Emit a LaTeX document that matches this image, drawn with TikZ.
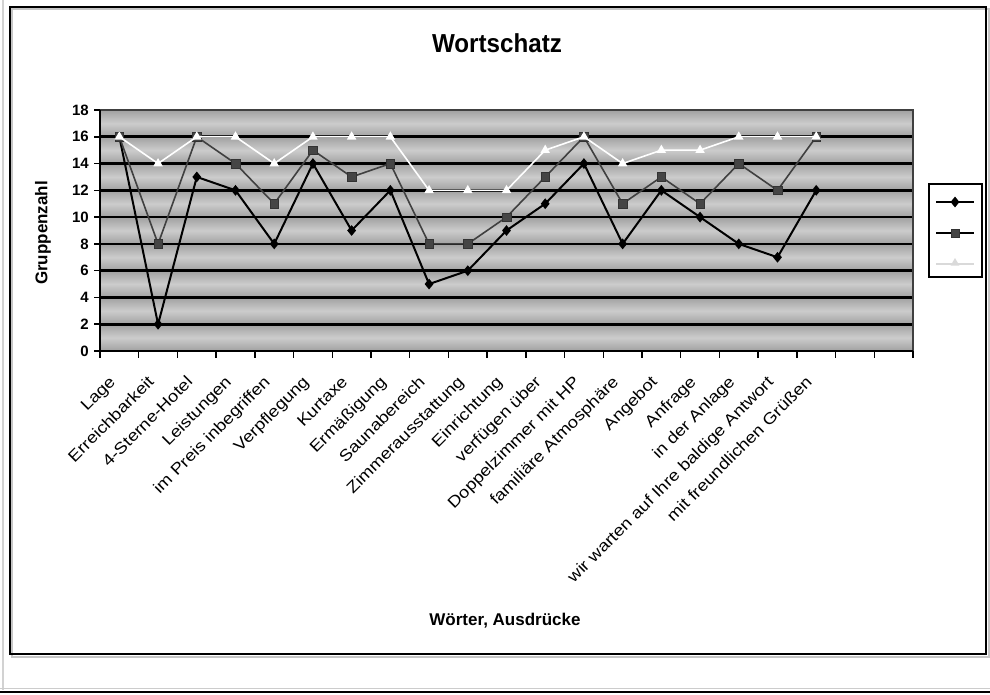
\documentclass[tikz,border=0pt]{standalone}
\usepackage{fontspec}
\setmainfont{Liberation Sans}
\usetikzlibrary{shapes.geometric}
\definecolor{bandedge}{gray}{0.63}
\definecolor{bandmid}{gray}{0.80}
\definecolor{sertwo}{gray}{0.25}
\definecolor{sertwofill}{gray}{0.27}
\begin{document}
\begin{tikzpicture}[x=1pt,y=-1pt,
  titlefont/.style={font=\bfseries\fontsize{26}{30}\selectfont},
  axtitle/.style={font=\bfseries\fontsize{17}{20}\selectfont},
  ticklab/.style={font=\bfseries\fontsize{15}{18}\selectfont, anchor=east, inner sep=0pt},
  catlab/.style={font=\fontsize{16}{19}\selectfont, anchor=mid east, rotate=45, inner sep=0pt},
  gridl/.style={line width=2.6pt, black},
  borderl/.style={line width=1.2pt, gray!50!black},
  axisl/.style={line width=2pt, black},
  tickl/.style={line width=1.5pt, black},
  sonel/.style={line width=2pt, black},
  stwol/.style={line width=1.6pt, sertwo},
  sthreel/.style={line width=1.6pt, white},
  dia/.style={diamond, fill=black, inner sep=0pt, minimum width=9pt, minimum height=11pt},
  sqr/.style={rectangle, fill=sertwofill, draw=black!80, line width=0.4pt, inner sep=0pt, minimum size=8.5pt},
  tri/.style={regular polygon, regular polygon sides=3, fill=white, inner sep=0pt, minimum size=11pt},
  tril/.style={regular polygon, regular polygon sides=3, fill=gray!30, inner sep=0pt, minimum size=10pt},
  frame/.style={line width=2.5pt, black},
  legbox/.style={line width=1.5pt, black, fill=white}]
\useasboundingbox (0,0) rectangle (990,694);
\fill[white] (0,0) rectangle (990,694);
% outer window lines
\draw[line width=2pt, gray!35] (3,0) -- (3,690);
\draw[line width=1.5pt, gray!40] (0,688.5) -- (990,688.5);
\draw[line width=2.5pt, black] (0,692) -- (990,692);
% main frame with shadow
\draw[line width=2pt, gray!45] (12,9) rectangle (989,657);
\draw[frame] (10,7) rectangle (986,654);
% title
\node[titlefont] (title) at (497,43) {\scalebox{0.93}[1]{Wortschatz}};
% plot area bands
\foreach \k in {0,...,8}{
  \shade[top color=bandedge, bottom color=bandedge, middle color=bandmid]
    (100,{351-13.389*2*\k}) rectangle (913,{351-13.389*2*(\k+1)});
}
% gridlines
\foreach \v in {2,4,...,16}{
  \coordinate (gl\v) at (100,{351-13.389*\v});
  \coordinate (gr\v) at (913,{351-13.389*\v});
  \draw[gridl] (gl\v) -- (gr\v);
}
\coordinate (ptl) at (100,110);
\coordinate (ptr) at (913,110);
\coordinate (pbr) at (913,351);
\coordinate (pbl) at (100,351);
\draw[borderl] (ptl) -- (ptr) -- (pbr);
\draw[axisl] (ptl) -- (pbl) -- (pbr);
% y ticks and labels
\foreach \v in {0,2,...,18}{
  \coordinate (yt\v) at (94,{351-13.389*\v});
  \coordinate (ya\v) at (100,{351-13.389*\v});
  \draw[tickl] (yt\v) -- (ya\v);
  \node[ticklab] (yl\v) at (89,{351-13.389*\v}) {\v};
}
% x ticks
\foreach \k in {0,...,21}{
  \coordinate (xa\k) at ({100+38.714*\k},351);
  \coordinate (xt\k) at ({100+38.714*\k},358);
  \draw[tickl] (xa\k) -- (xt\k);
}
% category labels
\foreach \t [count=\i] in {Lage,Erreichbarkeit,4-Sterne-Hotel,Leistungen,im Preis inbegriffen,Verpflegung,Kurtaxe,Ermäßigung,Saunabereich,Zimmerausstattung,Einrichtung,verfügen über,Doppelzimmer mit HP,familiäre Atmosphäre,Angebot,Anfrage,in der Anlage,wir warten auf Ihre baldige Antwort,mit freundlichen Grüßen}{
  \node[catlab] (cat\i) at ({100+38.714*(\i-0.5)-5},381) {\scalebox{1.15}[1]{\t}};
}
% axis titles
\node[axtitle, rotate=90] (ytitle) at (43,233) {Gruppenzahl};
\node[axtitle] (xtitle) at (505,621) {Wörter, Ausdrücke};
% series data
\foreach \v [count=\i] in {16,2,13,12,8,14,9,12,5,6,9,11,14,8,12,10,8,7,12}
  \coordinate (a\i) at ({100+38.714*(\i-0.5)},{351-13.389*\v});
\foreach \v [count=\i] in {16,8,16,14,11,15,13,14,8,8,10,13,16,11,13,11,14,12,16}
  \coordinate (b\i) at ({100+38.714*(\i-0.5)},{351-13.389*\v});
\foreach \v [count=\i] in {16,14,16,16,14,16,16,16,12,12,12,15,16,14,15,15,16,16,16}
  \coordinate (c\i) at ({100+38.714*(\i-0.5)},{351-13.389*\v});
% series 1
\draw[sonel, line join=round] (a1) \foreach \i in {2,...,19}{ -- (a\i)};
\foreach \i in {1,...,19} \node[dia] (ma\i) at (a\i) {};
% series 2
\draw[stwol, line join=round] (b1) \foreach \i in {2,...,19}{ -- (b\i)};
\foreach \i in {1,...,19} \node[sqr] (mb\i) at (b\i) {};
% series 3
\draw[sthreel, line join=round] (c1) \foreach \i in {2,...,19}{ -- (c\i)};
\foreach \i in {1,...,19} \node[tri] (mc\i) at (c\i) {};
% legend
\node[legbox, draw, minimum width=53pt, minimum height=93pt, inner sep=0pt] (legend) at (955.5,230.5) {};
\coordinate (la1) at (936,202); \coordinate (lb1) at (974,202);
\coordinate (la2) at (936,233); \coordinate (lb2) at (974,233);
\coordinate (la3) at (936,264); \coordinate (lb3) at (974,264);
\draw[sonel] (la1) -- (lb1);
\node[dia] (lm1) at (955,202) {};
\draw[line width=1.6pt, black] (la2) -- (lb2);
\node[sqr] (lm2) at (955,233) {};
\draw[line width=1.6pt, gray!30] (la3) -- (lb3);
\node[tril] (lm3) at (955,263) {};
\end{tikzpicture}
\end{document}
